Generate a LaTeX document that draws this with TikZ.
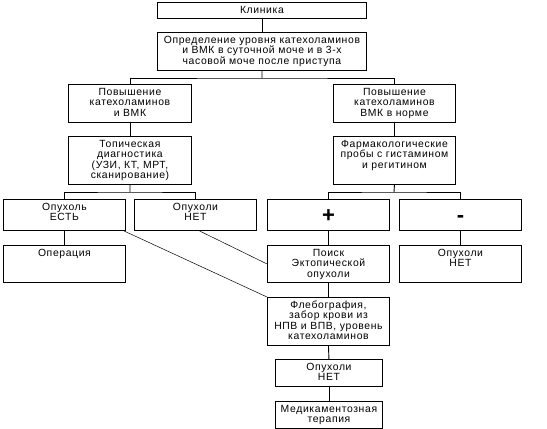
\documentclass[tikz,border=0pt]{standalone}
\usepackage{fontspec}
\setmainfont{Liberation Sans}[LetterSpace=6]
\begin{document}
\begin{tikzpicture}[x=1pt,y=-1pt,
  boxst/.style={draw, line width=0.9pt, inner sep=0pt, rectangle, anchor=north west},
  conn/.style={line width=0.9pt},
  diag/.style={line width=0.5pt}]
\useasboundingbox (0,0) rectangle (547,429);
\newcommand\mybox[6]{%
  \pgfmathsetmacro\bw{#4-#2}\pgfmathsetmacro\bh{#5-#3}%
  \node[boxst, minimum width=\bw pt, minimum height=\bh pt] (#1) at (#2,#3)
   {\parbox[t][\bh pt][t]{\bw pt}{\centering\fontsize{10.4}{10.4}\selectfont\rule{0pt}{11pt}#6}};}
\mybox{kl}{157}{2}{366}{18}{Клиника}
\mybox{opr}{157}{32}{366}{70}{Определение уровня катехоламинов\\и ВМК в суточной моче и в 3-х\\часовой моче после приступа}
\mybox{povL}{68}{84}{191}{122}{Повышение\\катехоламинов\\и ВМК}
\mybox{povR}{333}{84}{455}{122}{Повышение\\катехоламинов\\ВМК в норме}
\mybox{top}{68}{136}{191}{184}{Топическая\\диагностика\\(УЗИ, КТ, МРТ,\\сканирование)}
\mybox{farm}{333}{136}{455}{184}{Фармакологические\\пробы с гистамином\\и регитином}
\mybox{est}{3}{199}{125}{230}{Опухоль\\ЕСТЬ}
\mybox{net1}{134}{199}{256}{230}{Опухоли\\НЕТ}
\mybox{plus}{267}{199}{389}{230}{\rule{0pt}{23pt}{\fontsize{22}{22}\selectfont\bfseries +}}
\mybox{minus}{399}{199}{521}{230}{\rule{0pt}{23pt}{\fontsize{22}{22}\selectfont\bfseries -}}
\mybox{oper}{3}{245}{125}{282}{Операция}
\mybox{poisk}{267}{245}{389}{282}{Поиск\\Эктопической\\опухоли}
\mybox{net2}{399}{245}{521}{282}{Опухоли\\НЕТ}
\mybox{fleb}{267}{297}{389}{345}{Флебография,\\забор крови из\\НПВ и ВПВ, уровень\\катехоламинов}
\mybox{net3}{275}{359}{382}{386}{Опухоли\\НЕТ}
\mybox{med}{275}{401}{382}{428}{Медикаментозная\\терапия}
\coordinate (b1) at (262,78);
\coordinate (b2) at (130,192);
\coordinate (b3) at (394,192);
\draw[conn] (kl.south) -- (opr.north);
\draw[conn] (opr.south) -- (b1);
\draw[conn] (povL.north) |- (b1) -| (povR.north);
\draw[conn] (povL.south) -- (top.north);
\draw[conn] (povR.south) -- (farm.north);
\draw[conn] (top.south) -- (b2);
\draw[conn] (est.north) |- (b2) -| (net1.north);
\draw[conn] (farm.south) -- (b3);
\draw[conn] (plus.north) |- (b3) -| (minus.north);
\draw[conn] (est.south) -- (oper.north);
\draw[conn] (plus.south) -- (poisk.north);
\draw[conn] (minus.south) -- (net2.north);
\draw[conn] (poisk.south) -- (fleb.north);
\draw[conn] (fleb.south) -- (net3.north);
\draw[conn] (net3.south) -- (med.north);
\draw[diag] ([xshift=-2pt]est.south east) -- (fleb.north west);
\draw[diag] ([xshift=4pt]net1.south) -- (poisk.west);
\end{tikzpicture}
\end{document}
